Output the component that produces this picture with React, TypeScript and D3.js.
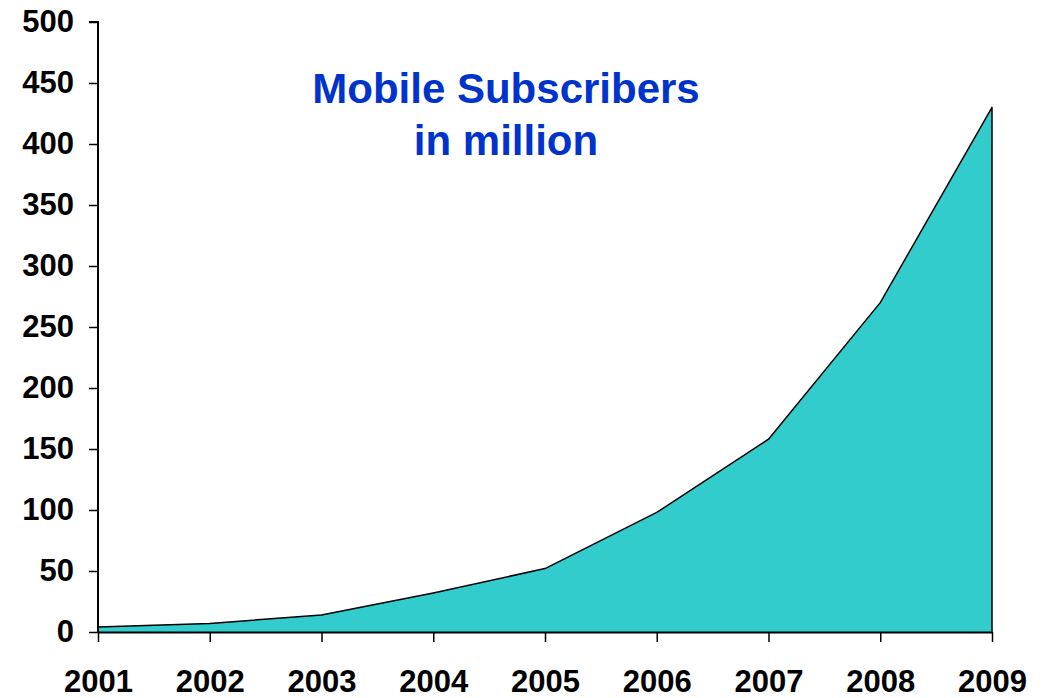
import React, { useEffect, useRef } from "react";
import * as d3 from "d3";

// Data
const years = ["2001", "2002", "2003", "2004", "2005", "2006", "2007", "2008", "2009"];
const subscribers = [4, 7, 14, 32, 52, 98, 158, 270, 430];
const yTicks = [0, 50, 100, 150, 200, 250, 300, 350, 400, 450, 500];
const titleLines = ["Mobile Subscribers", "in million"];

const App = () => {
  const ref = useRef<SVGSVGElement | null>(null);

  useEffect(() => {
    document.body.style.margin = "0";

    const width = 1048;
    const height = 698;
    const margin = { top: 22, right: 56, bottom: 66, left: 98 };

    const svg = d3.select(ref.current);
    svg.selectAll("*").remove();

    const x = d3
      .scalePoint<string>()
      .domain(years)
      .range([margin.left, width - margin.right]);

    const y = d3
      .scaleLinear()
      .domain([0, 500])
      .range([height - margin.bottom, margin.top]);

    const points = years.map((yr, i) => ({ year: yr, value: subscribers[i] }));

    // filled area
    const area = d3
      .area<{ year: string; value: number }>()
      .x((d) => x(d.year)!)
      .y0(y(0))
      .y1((d) => y(d.value));

    svg
      .append("path")
      .datum(points)
      .attr("d", area)
      .attr("fill", "#33CCCC");

    // outline on top + right edge
    const last = points[points.length - 1];
    const line = d3
      .line<{ year: string; value: number }>()
      .x((d) => x(d.year)!)
      .y((d) => y(d.value));

    svg
      .append("path")
      .attr("d", line(points)! + `L${x(last.year)},${y(0)}`)
      .attr("fill", "none")
      .attr("stroke", "#000")
      .attr("stroke-width", 1.5)
      .attr("stroke-linejoin", "round");

    // y axis
    const yAxis = svg
      .append("g")
      .attr("transform", `translate(${margin.left},0)`)
      .call(
        d3
          .axisLeft(y)
          .tickValues(yTicks)
          .tickSize(9)
          .tickPadding(15)
          .tickFormat((d) => String(d))
      );

    // x axis
    const xAxis = svg
      .append("g")
      .attr("transform", `translate(0,${y(0)})`)
      .call(d3.axisBottom(x).tickSize(10).tickPadding(28).tickSizeOuter(0));

    [yAxis, xAxis].forEach((g) => {
      g.selectAll(".domain").attr("stroke", "#000").attr("stroke-width", 2);
      g.selectAll(".tick line").attr("stroke", "#000").attr("stroke-width", 1.5);
      g.selectAll(".tick text")
        .attr("fill", "#000")
        .attr("font-family", "'Liberation Sans', Arial, sans-serif")
        .attr("font-weight", "bold")
        .attr("font-size", 31);
    });
    yAxis.select(".domain").attr("d", `M-9,${y(500)}H0V${y(0)}`);

    // title
    svg
      .append("text")
      .attr("x", 506)
      .attr("y", 103)
      .attr("text-anchor", "middle")
      .attr("font-family", "'Liberation Sans', Arial, sans-serif")
      .attr("font-weight", "bold")
      .attr("font-size", 42)
      .attr("fill", "#0033CC")
      .selectAll("tspan")
      .data(titleLines)
      .enter()
      .append("tspan")
      .attr("x", 506)
      .attr("dy", (_, i) => (i === 0 ? 0 : 52))
      .text((d) => d);
  }, []);

  return <svg ref={ref} width={1048} height={698} style={{ display: "block", background: "#fff" }} />;
};

export default App;
